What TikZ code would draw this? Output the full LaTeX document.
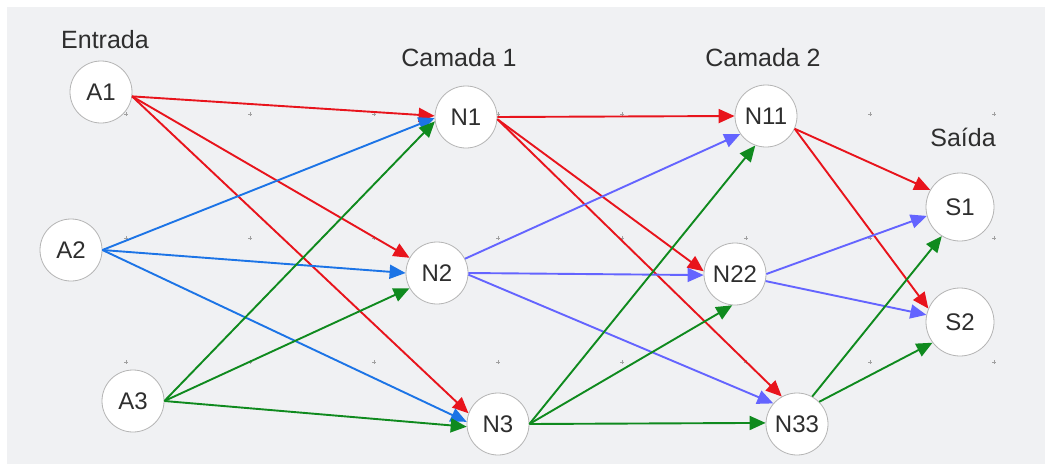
\documentclass[tikz,border=0pt]{standalone}
\usepackage{fontspec}
\setmainfont{Liberation Sans}
\usetikzlibrary{arrows.meta}
\definecolor{bgpanel}{HTML}{F0F1F3}
\definecolor{txt}{HTML}{2E2E2E}
\definecolor{ring}{HTML}{B4B4B4}
\definecolor{wred}{HTML}{E8141C}
\definecolor{wblue}{HTML}{1C74E6}
\definecolor{wgreen}{HTML}{0F8A1E}
\definecolor{wpurple}{HTML}{6464FF}
\definecolor{gridmark}{HTML}{A0A0A0}
\tikzset{
  neuron/.style={circle, draw=ring, line width=0.8pt, fill=white, minimum size=62pt,
    inner sep=0pt, text=txt, font=\fontsize{24}{28}\selectfont},
  outneuron/.style={neuron, minimum size=68pt},
  heading/.style={text=txt, font=\fontsize{25}{30}\selectfont, inner sep=0pt},
  link/.style={line width=1.9pt, -{Triangle[length=16pt,width=14pt]}},
}
\begin{document}
\begin{tikzpicture}[x=1pt,y=-1pt]
  % canvas and panel
  \fill[white] (0,0) rectangle (1045,466);
  \useasboundingbox (0,0) rectangle (1045,466);
  \fill[bgpanel] (7,7) rectangle (1045,464);
  % faint grid marks
  \foreach \gx in {126,250,374,498,622,746,870,994}
    \foreach \gy in {114,238,362}
      \draw[gridmark, line width=0.5pt] (\gx-2,\gy) -- (\gx+2,\gy) (\gx,\gy-2) -- (\gx,\gy+2);

  % layer titles
  \node[heading] (tin)  at (105,40)  {Entrada};
  \node[heading] (tl1)  at (459,58)  {Camada 1};
  \node[heading] (tl2)  at (763,58)  {Camada 2};
  \node[heading] (tout) at (963,137) {Saída};

  % neurons
  \node[neuron] (A1) at (101,92)  {A1};
  \node[neuron] (A2) at (71,250)  {A2};
  \node[neuron] (A3) at (133,401) {A3};
  \node[neuron] (N1) at (466,117) {N1};
  \node[neuron] (N2) at (437,273) {N2};
  \node[neuron] (N3) at (498,424) {N3};
  \node[neuron] (N11) at (766,116) {N11};
  \node[neuron] (N22) at (735,274) {N22};
  \node[neuron] (N33) at (797,424) {N33};
  \node[outneuron] (S1) at (960,207) {S1};
  \node[outneuron] (S2) at (960,322) {S2};

  % input -> layer 1
  \draw[link, wred]   (A1.-8) -- (N1.178);
  \draw[link, wred]   (A1.-8) -- (N2.151);
  \draw[link, wred]   (A1.-8) -- (N3.160);
  \draw[link, wblue]  (A2.east) -- (N1.182);
  \draw[link, wblue]  (A2.east) -- (N2.180);
  \draw[link, wblue]  (A2.east) -- (N3.176);
  \draw[link, wgreen] (A3.east) -- (N1.188);
  \draw[link, wgreen] (A3.east) -- (N2.209);
  \draw[link, wgreen] (A3.east) -- (N3.185);

  % layer 1 -> layer 2
  \draw[link, wred]    (N1.east) -- (N11.180);
  \draw[link, wred]    (N1.-4) -- (N22.175);
  \draw[link, wred]    (N1.-4) -- (N33.119);
  \draw[link, wpurple] (N2.27) -- (N11.215);
  \draw[link, wpurple] (N2.east) -- (N22.182);
  \draw[link, wpurple] (N2.-3) -- (N33.139);
  \draw[link, wgreen]  (N3.east) -- (N11.250);
  \draw[link, wgreen]  (N3.east) -- (N22.265);
  \draw[link, wgreen]  (N3.east) -- (N33.178);

  % layer 2 -> output
  \draw[link, wred]    (N11.-24) -- (S1.150);
  \draw[link, wred]    (N11.-24) -- (S2.157);
  \draw[link, wpurple] (N22.east) -- (S1.195);
  \draw[link, wpurple] (N22.-13) -- (S2.168);
  \draw[link, wgreen]  (N33.61) -- (S1.238);
  \draw[link, wgreen]  (N33.45) -- (S2.217);
\end{tikzpicture}
\end{document}
